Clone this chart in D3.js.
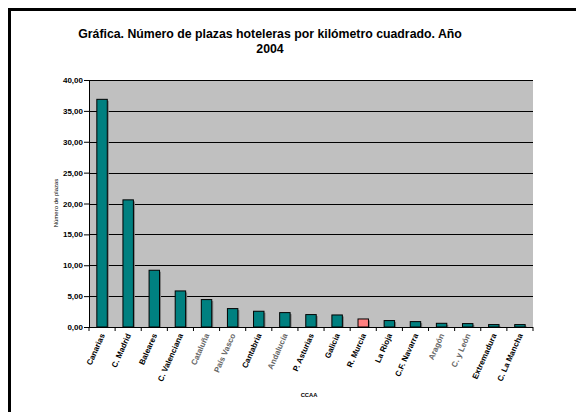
<!DOCTYPE html>
<html>
<head>
<meta charset="utf-8">
<script src="https://cdn.jsdelivr.net/npm/d3@7"></script>
<style>
  body { margin: 0; background: #fff; }
  text { font-family: "Liberation Sans", Arial, sans-serif; }
</style>
</head>
<body>
<div id="chart"></div>
<script>
// Data
const categories = ["Canarias", "C. Madrid", "Baleares", "C. Valenciana", "Cataluña", "País Vasco",
  "Cantabria", "Andalucía", "P. Asturias", "Galicia", "R. Murcia", "La Rioja", "C.F. Navarra",
  "Aragón", "C. y León", "Extremadura", "C. La Mancha"];
const values = [36.87, 20.59, 9.19, 5.84, 4.44, 2.98, 2.55, 2.33, 2.01, 1.95, 1.30, 1.04, 0.87,
  0.60, 0.55, 0.39, 0.39];
const highlighted = ["R. Murcia"];
const faded = ["Cataluña", "País Vasco", "Andalucía", "Aragón", "C. y León"];
const yTicks = [0, 5, 10, 15, 20, 25, 30, 35, 40];

const W = 576, H = 412;
const plot = { left: 89, top: 80, right: 533, bottom: 327 };

const svg = d3.select("#chart").append("svg")
  .attr("width", W)
  .attr("height", H);

// outer frame (runs off the right and bottom edges)
svg.append("rect")
  .attr("x", 9.5).attr("y", 9.5)
  .attr("width", 700).attr("height", 600)
  .attr("fill", "#fff")
  .attr("stroke", "#000")
  .attr("stroke-width", 3);

// Title
const title = svg.append("text")
  .attr("x", 270).attr("y", 38)
  .attr("text-anchor", "middle")
  .style("font-size", "12.3px")
  .style("font-weight", "bold");
title.append("tspan").attr("x", 270).text("Gráfica. Número de plazas hoteleras por kilómetro cuadrado. Año");
title.append("tspan").attr("x", 270).attr("dy", 15).text("2004");

const x = d3.scaleBand()
  .domain(categories)
  .range([plot.left, plot.right])
  .paddingInner(0.6)
  .paddingOuter(0.3);

const y = d3.scaleLinear()
  .domain([0, 40])
  .range([plot.bottom, plot.top]);

// plot background
svg.append("rect")
  .attr("x", plot.left).attr("y", plot.top)
  .attr("width", plot.right - plot.left)
  .attr("height", plot.bottom - plot.top)
  .attr("fill", "#c0c0c0");

// grid lines
svg.append("g")
  .selectAll("line")
  .data(yTicks.filter(d => d > 0))
  .enter().append("line")
  .attr("x1", plot.left).attr("x2", plot.right)
  .attr("y1", d => Math.round(y(d)) + 0.5)
  .attr("y2", d => Math.round(y(d)) + 0.5)
  .attr("stroke", "#000")
  .attr("stroke-width", 1);

// bar shadows
svg.append("g")
  .selectAll("rect")
  .data(categories)
  .enter().append("rect")
  .attr("x", d => x(d) + 1.5)
  .attr("y", (d, i) => y(values[i]) + 1.5)
  .attr("width", x.bandwidth())
  .attr("height", (d, i) => plot.bottom - y(values[i]) - 1.5)
  .attr("fill", "#808080");

// bars
svg.append("g")
  .selectAll("rect")
  .data(categories)
  .enter().append("rect")
  .attr("x", d => x(d))
  .attr("y", (d, i) => y(values[i]))
  .attr("width", x.bandwidth())
  .attr("height", (d, i) => plot.bottom - y(values[i]))
  .attr("fill", d => highlighted.includes(d) ? "#ff8080" : "#008080")
  .attr("stroke", "#000")
  .attr("stroke-width", 1);

// Y axis
const yAxis = svg.append("g")
  .attr("transform", `translate(${plot.left},0)`)
  .call(d3.axisLeft(y)
    .tickValues(yTicks)
    .tickSize(5)
    .tickFormat(d => d3.format(".2f")(d).replace(".", ",")));
yAxis.select(".domain").attr("stroke", "#000");
yAxis.selectAll("line").attr("stroke", "#000");
yAxis.selectAll("text")
  .attr("fill", "#000")
  .style("font-size", "8px")
  .style("font-weight", "bold")
  .style("font-family", "Liberation Sans, Arial, sans-serif")
  .attr("x", -6);

// X axis
svg.append("line")
  .attr("x1", plot.left).attr("x2", plot.right)
  .attr("y1", plot.bottom + 0.5).attr("y2", plot.bottom + 0.5)
  .attr("stroke", "#000");

svg.append("g")
  .selectAll("line")
  .data(d3.range(categories.length + 1))
  .enter().append("line")
  .attr("x1", i => plot.left + i * (plot.right - plot.left) / categories.length)
  .attr("x2", i => plot.left + i * (plot.right - plot.left) / categories.length)
  .attr("y1", plot.bottom)
  .attr("y2", plot.bottom + 4)
  .attr("stroke", "#000");

// category labels
svg.append("g")
  .selectAll("text")
  .data(categories)
  .enter().append("text")
  .attr("transform", d => `translate(${x(d) + x.bandwidth() / 2 + 3},${plot.bottom + 8}) rotate(-66)`)
  .attr("text-anchor", "end")
  .style("font-size", "8px")
  .style("font-weight", "bold")
  .attr("fill", d => faded.includes(d) ? "#666" : "#000")
  .text(d => d);

// axis titles
svg.append("text")
  .attr("transform", `translate(58,203) rotate(-90)`)
  .attr("text-anchor", "middle")
  .style("font-size", "6px")
  .text("Número de plazas");

svg.append("text")
  .attr("x", 309).attr("y", 397)
  .attr("text-anchor", "middle")
  .style("font-size", "5.8px")
  .style("font-weight", "bold")
  .text("CCAA");
</script>
</body>
</html>
